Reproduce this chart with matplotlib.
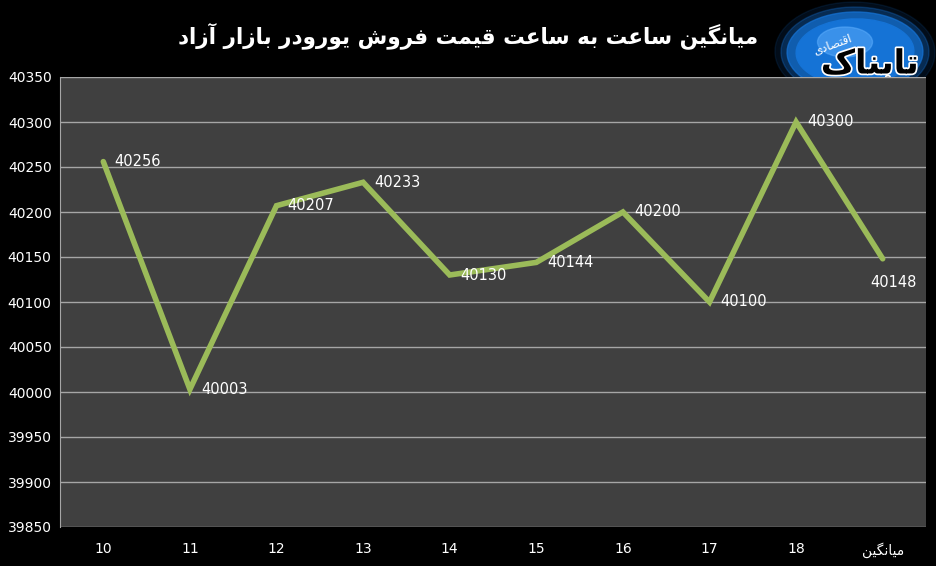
import matplotlib
matplotlib.use("Agg")
import matplotlib.pyplot as plt
from matplotlib.patches import Ellipse
import matplotlib.patheffects as pe

# داده‌ها
categories = ["10", "11", "12", "13", "14", "15", "16", "17", "18", "میانگین"]
prices = [40256, 40003, 40207, 40233, 40130, 40144, 40200, 40100, 40300, 40148]
y_ticks = [39850, 39900, 39950, 40000, 40050, 40100, 40150, 40200, 40250, 40300, 40350]
title = "میانگین ساعت به ساعت قیمت فروش یورودر بازار آزاد"
logo_main = "تابناک"
logo_sub = "اقتصادی"

# شکل‌دهی دستی حروف فارسی (matplotlib حروف را نمی‌چسباند)
# (isolated, final, initial, medial)
FORMS = {
    "ا": ("\uFE8D", "\uFE8E", None, None),
    "آ": ("\uFE81", "\uFE82", None, None),
    "ب": ("\uFE8F", "\uFE90", "\uFE91", "\uFE92"),
    "ت": ("\uFE95", "\uFE96", "\uFE97", "\uFE98"),
    "د": ("\uFEA9", "\uFEAA", None, None),
    "ر": ("\uFEAD", "\uFEAE", None, None),
    "ز": ("\uFEAF", "\uFEB0", None, None),
    "س": ("\uFEB1", "\uFEB2", "\uFEB3", "\uFEB4"),
    "ش": ("\uFEB5", "\uFEB6", "\uFEB7", "\uFEB8"),
    "ص": ("\uFEB9", "\uFEBA", "\uFEBB", "\uFEBC"),
    "ع": ("\uFEC9", "\uFECA", "\uFECB", "\uFECC"),
    "ف": ("\uFED1", "\uFED2", "\uFED3", "\uFED4"),
    "ق": ("\uFED5", "\uFED6", "\uFED7", "\uFED8"),
    "م": ("\uFEE1", "\uFEE2", "\uFEE3", "\uFEE4"),
    "ن": ("\uFEE5", "\uFEE6", "\uFEE7", "\uFEE8"),
    "ه": ("\uFEE9", "\uFEEA", "\uFEEB", "\uFEEC"),
    "و": ("\uFEED", "\uFEEE", None, None),
    "ی": ("\uFBFC", "\uFBFD", "\uFBFE", "\uFBFF"),
    "گ": ("\uFB92", "\uFB93", "\uFB94", "\uFB95"),
    "ک": ("\uFB8E", "\uFB8F", "\uFB90", "\uFB91"),
}


def fa(text):
    # فقط متن فارسی را شکل می‌دهد و برعکس می‌کند؛ اعداد دست نمی‌خورند
    if not any(ch in FORMS for ch in text):
        return text
    out = []
    for i, ch in enumerate(text):
        if ch not in FORMS:
            out.append(ch)
            continue
        prev = text[i - 1] if i > 0 else ""
        nxt = text[i + 1] if i + 1 < len(text) else ""
        joins_prev = prev in FORMS and FORMS[prev][2] is not None
        joins_next = nxt in FORMS and FORMS[ch][2] is not None
        iso, fin, ini, med = FORMS[ch]
        if joins_prev and joins_next:
            out.append(med)
        elif joins_prev:
            out.append(fin)
        elif joins_next:
            out.append(ini)
        else:
            out.append(iso)
    return "".join(out)[::-1]


plt.rcParams["font.family"] = ["DejaVu Sans"]

fig = plt.figure(figsize=(9.37, 5.66), dpi=100, facecolor="black")
W, H = 937, 566
ax = fig.add_axes([60 / W, (H - 527) / H, 866 / W, 450 / H])
ax.set_facecolor("#404040")

x = list(range(len(categories)))
ax.plot(x, prices, color="#9bbb59", lw=4, solid_capstyle="round", solid_joinstyle="miter", zorder=3)

for i, v in enumerate(prices):
    if i == len(prices) - 1:
        ax.annotate(str(v), (i, v), xytext=(8, -17), textcoords="offset points",
                    ha="center", va="center", color="white", fontsize=10.5, zorder=4)
    else:
        ax.annotate(str(v), (i, v), xytext=(8, 0), textcoords="offset points",
                    ha="left", va="center", color="white", fontsize=10.5, zorder=4)

ax.set_xlim(-0.5, len(categories) - 0.5)
ax.set_ylim(y_ticks[0], y_ticks[-1])
ax.set_yticks(y_ticks)
ax.set_yticklabels([str(t) for t in y_ticks])
ax.set_xticks(x)
ax.set_xticklabels([fa(c) for c in categories])
for lab in ax.get_xticklabels()[-1:]:
    lab.set_fontsize(8.5)
ax.tick_params(colors="white", labelsize=10, length=0, pad=11)
ax.tick_params(axis="y", pad=6)
ax.grid(axis="y", color="#a6a6a6", lw=1)
ax.set_axisbelow(True)
for s in ax.spines.values():
    s.set_visible(False)
ax.spines["left"].set_visible(True)
ax.spines["left"].set_color("#a6a6a6")

fig.text(468 / W, 1 - 36 / H, fa(title), color="white", fontsize=15.5, fontweight="bold",
         ha="center", va="center")

# لوگو (تقریبی)
for w, h, a in [(160, 100, 0.12), (148, 90, 0.3), (136, 80, 0.7), (118, 66, 1.0)]:
    fig.patches.append(Ellipse((855 / W, 1 - 52 / H), w / W, h / H, angle=10,
                               transform=fig.transFigure, color="#1573d6", alpha=a, zorder=-2))
fig.patches.append(Ellipse((845 / W, 1 - 42 / H), 55 / W, 30 / H, transform=fig.transFigure,
                           color="#5fb0ff", alpha=0.5, zorder=-2))
fig.text(870 / W, 1 - 64 / H, fa(logo_main), color="black", fontsize=24, fontweight="bold",
         ha="center", va="center", zorder=-1,
         path_effects=[pe.withStroke(linewidth=2.5, foreground="white")])
fig.text(832 / W, 1 - 44 / H, fa(logo_sub), color="white", fontsize=8.5, rotation=20,
         ha="center", va="center", zorder=-1)

fig.savefig("out.png", dpi=100, facecolor="black")
